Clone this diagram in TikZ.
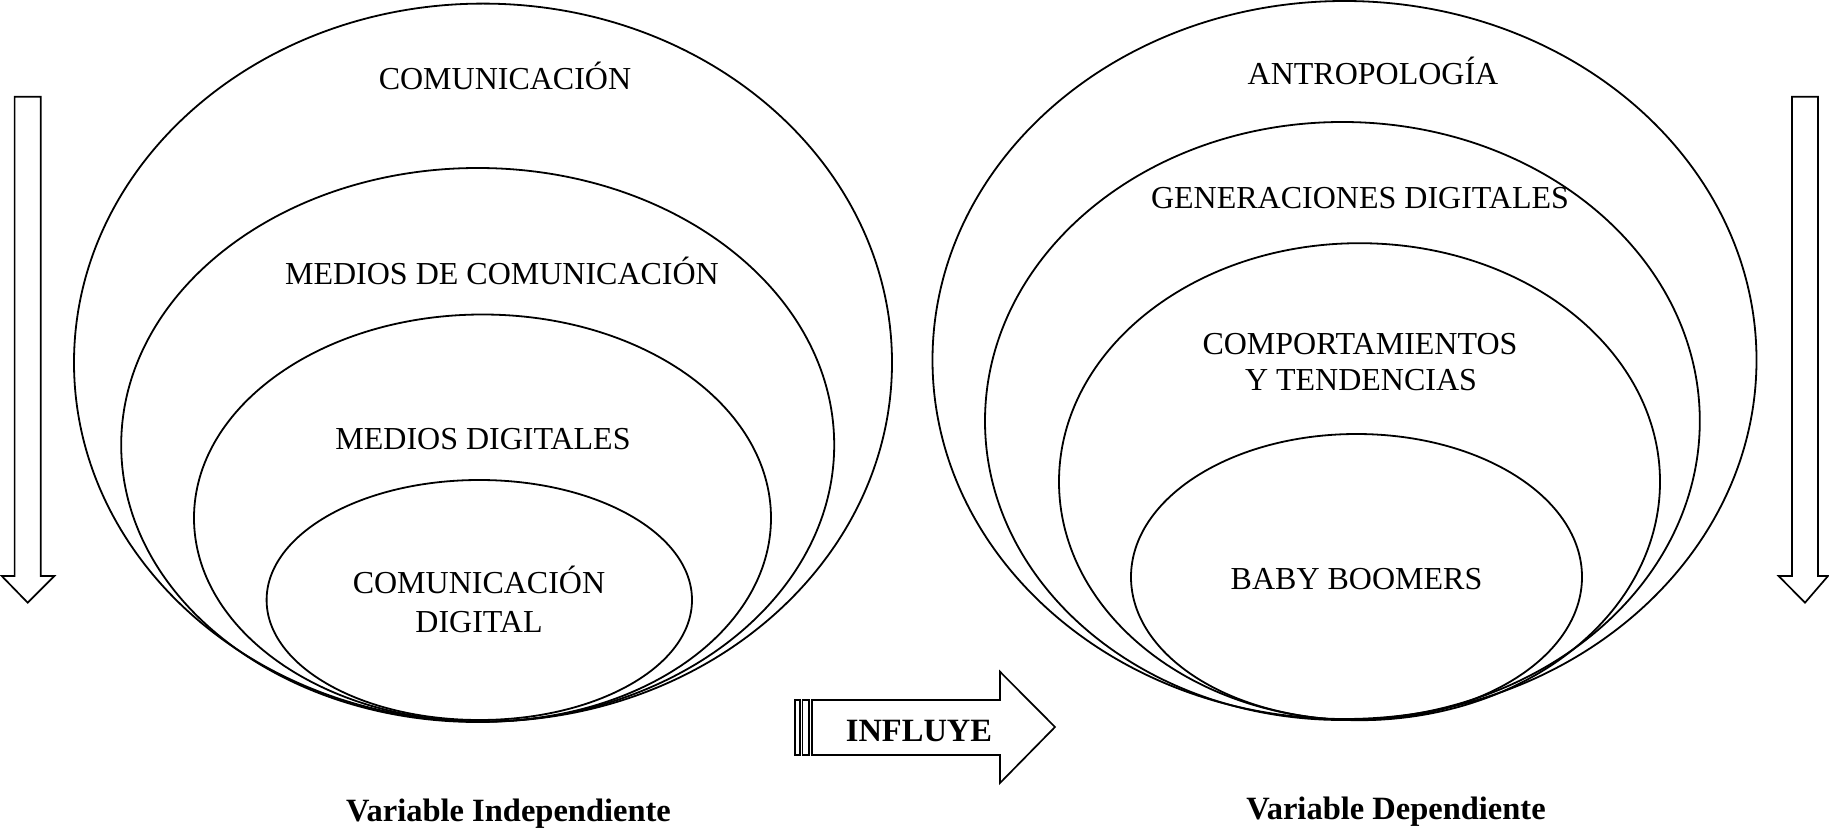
\documentclass[tikz,border=0pt]{standalone}
\usepackage{fontspec}
\setmainfont{Liberation Serif}
\newfontfamily\tnr{Liberation Serif}
\begin{document}
\begin{tikzpicture}[x=1pt,y=-1pt,
  ring/.style={draw, line width=1.8pt},
  blockarrow/.style={draw, line width=1.7pt, line join=miter},
  lbl/.style={font=\tnr\fontsize{32}{39}\selectfont, inner sep=0pt, anchor=base},
  blbl/.style={font=\tnr\fontsize{32.5}{39}\selectfont\bfseries, inner sep=0pt, anchor=base}]
\useasboundingbox (0,0) rectangle (1829,829);
% left nest
\draw[ring] (483,362.6) ellipse [x radius=409, y radius=359];
\draw[ring] (477.7,445) ellipse [x radius=356.5, y radius=277];
\draw[ring] (482.5,518) ellipse [x radius=288.5, y radius=203.5];
\draw[ring] (479.3,600) ellipse [x radius=212.7, y radius=120];
\node[lbl] (comu) at (505,90) {COMUNICACIÓN};
\node[lbl] (medcom) at (502,284) {MEDIOS DE COMUNICACIÓN};
\node[lbl] (meddig) at (483,449.5) {MEDIOS DIGITALES};
\node[lbl] (comdig1) at (479,593) {COMUNICACIÓN};
\node[lbl] (comdig2) at (479,632) {DIGITAL};
\node[blbl] (vi) at (508.5,821) {Variable Independiente};
% right nest
\draw[ring] (1344.5,360) ellipse [x radius=412, y radius=359];
\draw[ring] (1342.4,421) ellipse [x radius=357.4, y radius=299];
\draw[ring] (1359.5,481.7) ellipse [x radius=300.5, y radius=238.5];
\draw[ring] (1356.5,577) ellipse [x radius=225.5, y radius=143];
\node[lbl] (antro) at (1373,84.6) {ANTROPOLOGÍA};
\node[lbl] (gen) at (1360,209) {GENERACIONES DIGITALES};
\node[lbl] (comp1) at (1360,354) {COMPORTAMIENTOS};
\node[lbl] (comp2) at (1361,390) {Y TENDENCIAS};
\node[lbl] (baby) at (1356.5,589.5) {BABY BOOMERS};
\node[blbl] (vd) at (1396,819.5) {Variable Dependiente};
% down arrows
\draw[blockarrow] (14.6,96.8) -- (40.8,96.8) -- (40.8,576) -- (54.3,576) -- (27.7,602.7) -- (1.75,576) -- (14.6,576) -- cycle;
\draw[blockarrow] (1792,96.8) -- (1818,96.8) -- (1818,576) -- (1828,576) -- (1805,602.7) -- (1778.6,576) -- (1792,576) -- cycle;
% influye arrow
\draw[blockarrow] (795,700) rectangle (800,755);
\draw[blockarrow] (802.5,700) rectangle (809,755);
\draw[blockarrow] (812,700) -- (1000,700) -- (1000,671.7) -- (1055,727) -- (1000,783) -- (1000,755) -- (812,755) -- cycle;
\node[blbl] (infl) at (919,741.7) {INFLUYE};
\end{tikzpicture}
\end{document}
